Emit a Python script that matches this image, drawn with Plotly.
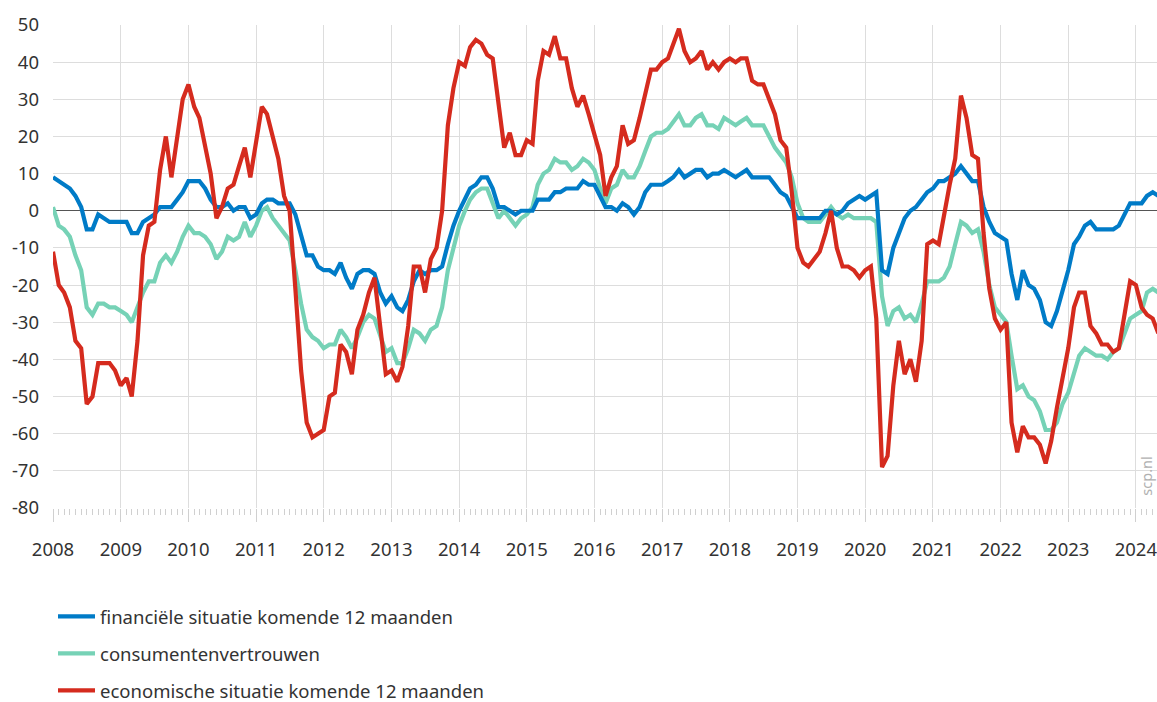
import pandas as pd
import plotly.graph_objects as go

# Monthly observations, January 2008 - May 2024
start_month = "2008-01-01"
n_months = 197
months = pd.date_range(start_month, periods=n_months, freq="MS")

financiele_situatie = [
    9, 8, 7, 6, 4, 1, -5, -5, -1, -2, -3, -3,            # 2008
    -3, -3, -6, -6, -3, -2, -1, 1, 1, 1, 3, 5,            # 2009
    8, 8, 8, 6, 3, 1, 1, 2, 0, 1, 1, -2,                  # 2010
    -1, 2, 3, 3, 2, 2, 2, -1, -7, -12, -12, -15,          # 2011
    -16, -16, -17, -14, -18, -21, -17, -16, -16, -17, -22, -25,  # 2012
    -23, -26, -27, -24, -19, -16, -17, -16, -16, -15, -9, -4,    # 2013
    0, 3, 6, 7, 9, 9, 6, 1, 1, 0, -1, 0,                  # 2014
    0, 0, 3, 3, 3, 5, 5, 6, 6, 6, 8, 7,                   # 2015
    7, 4, 1, 1, 0, 2, 1, -1, 1, 5, 7, 7,                  # 2016
    7, 8, 9, 11, 9, 10, 11, 11, 9, 10, 10, 11,            # 2017
    10, 9, 10, 11, 9, 9, 9, 9, 7, 5, 4, 1,                # 2018
    -2, -2, -2, -2, -2, 0, 0, -1, 0, 2, 3, 4,             # 2019
    3, 4, 5, -16, -17, -10, -6, -2, 0, 1, 3, 5,           # 2020
    6, 8, 8, 9, 10, 12, 10, 8, 8, 1, -3, -6,              # 2021
    -7, -8, -17, -24, -16, -20, -21, -24, -30, -31, -27, -22,  # 2022
    -16, -9, -7, -4, -3, -5, -5, -5, -5, -4, -1, 2,       # 2023
    2, 2, 4, 5, 4,                                        # 2024
]

consumentenvertrouwen = [
    1, -4, -5, -7, -12, -16, -26, -28, -25, -25, -26, -26,      # 2008
    -27, -28, -30, -26, -22, -19, -19, -14, -12, -14, -11, -7,  # 2009
    -4, -6, -6, -7, -9, -13, -11, -7, -8, -7, -3, -7,           # 2010
    -4, 0, 1, -2, -4, -6, -8, -16, -25, -32, -34, -35,          # 2011
    -37, -36, -36, -32, -34, -37, -34, -30, -28, -29, -34, -38, # 2012
    -37, -41, -41, -37, -32, -33, -35, -32, -31, -26, -16, -10, # 2013
    -4, 0, 3, 5, 6, 6, 2, -2, 0, -2, -4, -2,                    # 2014
    -1, 1, 7, 10, 11, 14, 13, 13, 11, 12, 14, 13,               # 2015
    11, 6, 2, 6, 7, 11, 9, 9, 12, 16, 20, 21,                   # 2016
    21, 22, 24, 26, 23, 23, 25, 26, 23, 23, 22, 25,             # 2017
    24, 23, 24, 25, 23, 23, 23, 20, 17, 15, 13, 9,              # 2018
    2, -2, -3, -3, -3, -1, 1, -1, -2, -1, -2, -2,               # 2019
    -2, -2, -3, -23, -31, -27, -26, -29, -28, -30, -25, -19,    # 2020
    -19, -19, -18, -15, -9, -3, -4, -6, -5, -11, -20, -26,      # 2021
    -28, -30, -39, -48, -47, -50, -51, -54, -59, -59, -57, -52, # 2022
    -49, -44, -39, -37, -38, -39, -39, -40, -38, -37, -33, -29, # 2023
    -28, -27, -22, -21, -22,                                    # 2024
]

economische_situatie = [
    -11, -20, -22, -26, -35, -37, -52, -50, -41, -41, -41, -43,  # 2008
    -47, -45, -50, -35, -12, -4, -3, 11, 20, 9, 20, 30,          # 2009
    34, 28, 25, 18, 10, -2, 1, 6, 7, 12, 17, 9,                  # 2010
    19, 28, 26, 20, 14, 4, 0, -21, -43, -57, -61, -60,           # 2011
    -59, -50, -49, -36, -38, -44, -32, -28, -22, -18, -31, -44,  # 2012
    -43, -46, -42, -31, -15, -15, -22, -13, -10, 0, 23, 33,      # 2013
    40, 39, 44, 46, 45, 42, 41, 29, 17, 21, 15, 15,              # 2014
    19, 18, 35, 43, 42, 47, 41, 41, 33, 28, 31, 26,              # 2015
    20, 15, 4, 9, 12, 23, 18, 19, 25, 31, 38, 38,                # 2016
    40, 41, 45, 49, 43, 40, 41, 43, 38, 40, 38, 40,              # 2017
    41, 40, 41, 41, 35, 34, 34, 30, 26, 19, 17, 5,               # 2018
    -10, -14, -15, -13, -11, -6, 0, -10, -15, -15, -16, -18,     # 2019
    -16, -15, -29, -69, -66, -47, -35, -44, -40, -46, -35, -9,   # 2020
    -8, -9, -1, 7, 14, 31, 25, 15, 14, -6, -21, -29,             # 2021
    -32, -30, -57, -65, -58, -61, -61, -63, -68, -62, -53, -45,  # 2022
    -37, -26, -22, -22, -31, -33, -36, -36, -38, -37, -27, -19,  # 2023
    -20, -26, -28, -29, -33,                                     # 2024
]

series_names = [
    "financiële situatie komende 12 maanden",
    "consumentenvertrouwen",
    "economische situatie komende 12 maanden",
]
y_ticks = list(range(-80, 51, 10))
y_tick_text = [str(v) for v in y_ticks]          # plain hyphen-minus as in the source
year_ticks = pd.date_range("2008-01-01", "2024-01-01", freq="YS")

BLUE = "#007BC7"
GREEN = "#76D2B6"
RED = "#D52B1E"
FONT = "Noto Sans"

fig = go.Figure()
# drawing order: green below, then blue, red on top; legend order via legendrank
for name, vals, color, rank in [
    (series_names[1], consumentenvertrouwen, GREEN, 2),
    (series_names[0], financiele_situatie, BLUE, 1),
    (series_names[2], economische_situatie, RED, 3),
]:
    fig.add_trace(go.Scatter(
        x=months, y=vals, name=name, mode="lines",
        line=dict(color=color, width=4.2, shape="linear"),
        legendrank=rank, legendgroup=name,
    ))

fig.update_layout(
    width=1157, height=702,
    margin=dict(l=53, r=0, t=25, b=194, autoexpand=False),
    plot_bgcolor="white", paper_bgcolor="white",
    font=dict(family=FONT, size=18, color="#333333"),
    showlegend=True,
    legend=dict(
        x=0.0, xanchor="left", y=-0.186, yanchor="top",
        orientation="v", font=dict(size=18.5, color="#333333"),
        tracegroupgap=10, itemwidth=37, bgcolor="rgba(0,0,0,0)",
    ),
    annotations=[dict(
        text="scp.nl", xref="paper", yref="paper", x=0.9905, y=0.066,
        xanchor="center", yanchor="middle", showarrow=False, textangle=-90,
        font=dict(family=FONT, size=14.5, color="#b0b0b0"),
    )],
)

fig.update_xaxes(
    type="date", range=["2008-01-01", "2024-04-24"], automargin=False,
    tickvals=year_ticks, tickformat="%Y", ticklabeloverflow="allow",
    showgrid=True, gridcolor="#dddddd", gridwidth=1.2,
    ticks="outside", ticklen=13, tickcolor="#d0d0d0", tickwidth=1.2,
    ticklabelstandoff=12,
    minor=dict(dtick="M1", ticks="outside", ticklen=6, tickcolor="#d0d0d0", showgrid=False),
    showline=False, zeroline=False,
    tickfont=dict(size=18.5, color="#333333"),
)
fig.update_yaxes(
    range=[-80, 50], tickvals=y_ticks, ticktext=y_tick_text, automargin=False,
    showgrid=True, gridcolor="#dddddd", gridwidth=1.2,
    zeroline=True, zerolinecolor="#555555", zerolinewidth=1.3,
    ticks="", showline=False, ticklabelstandoff=13,
    tickfont=dict(size=18.5, color="#333333"),
)

# remove the default page margin so the 1157x702 figure fills the window exactly
fig.write_html(
    "out.html",
    config={"displayModeBar": False},
    post_script="document.body.style.margin='0px';",
)
